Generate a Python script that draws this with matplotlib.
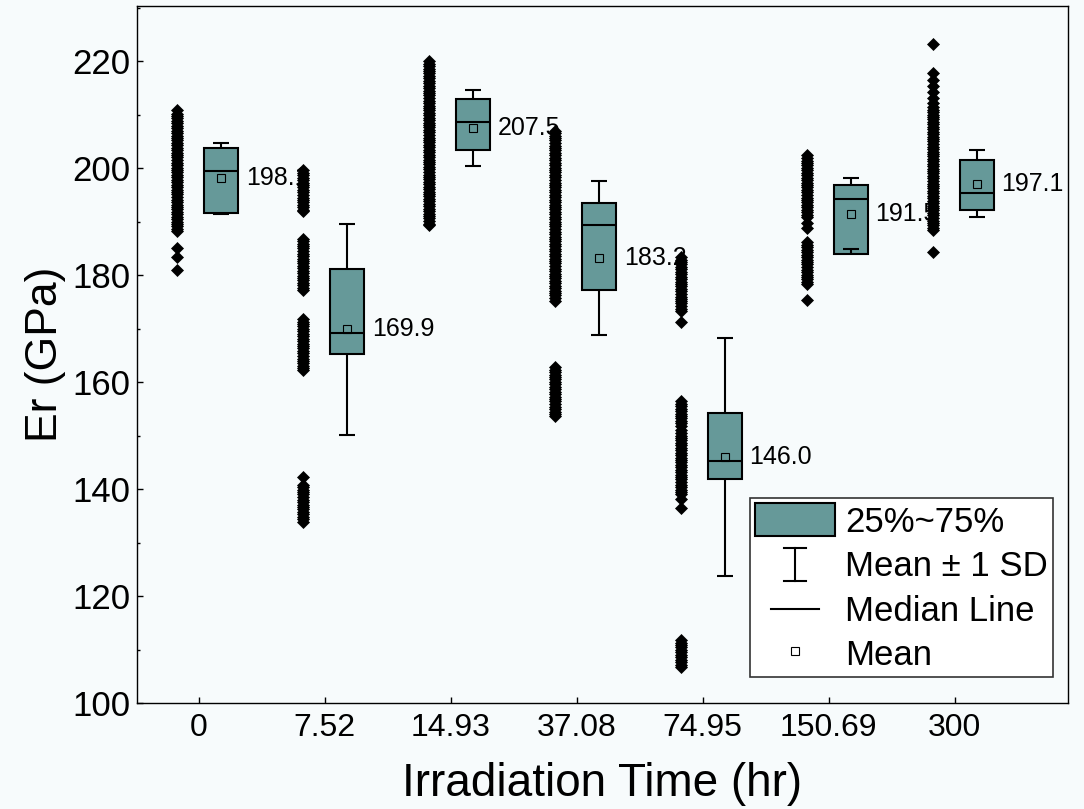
"""
Er (GPa) vs irradiation time: raw strips + box (25-75 %), mean +/- 1 SD whiskers,
median line and mean marker, with the mean written beside each box.
"""

import matplotlib
matplotlib.use("Agg")
import matplotlib.pyplot as plt
import matplotlib.patches as mpatches
from matplotlib.lines import Line2D
from matplotlib.legend_handler import HandlerBase
from matplotlib.ticker import MultipleLocator

# --- data ---
times = ["0", "7.52", "14.93", "37.08", "74.95", "150.69", "300"]

q1 = [191.6, 165.2, 203.3, 177.3, 141.8, 184.0, 192.1]
median = [199.5, 169.2, 208.6, 189.3, 145.2, 194.3, 195.4]
q3 = [203.8, 181.1, 213.0, 193.5, 154.2, 196.9, 201.6]
mean = [198.1, 169.9, 207.5, 183.2, 146.0, 191.5, 197.1]
sd = [6.6, 19.7, 7.1, 14.4, 22.3, 6.7, 6.3]

raw_0 = [210.8, 210.2, 209.8, 209.3, 208.9, 208.4, 207.9, 207.5, 207.0, 206.6,
         206.1, 205.6, 205.2, 204.7, 204.3, 203.8, 203.3, 202.9, 202.4, 202.0,
         201.5, 201.0, 200.6, 200.1, 199.7, 199.2, 198.7, 198.3, 197.8, 197.4,
         196.9, 196.4, 196.0, 195.5, 195.1, 194.6, 194.1, 193.7, 193.2, 192.8,
         192.3, 191.8, 191.4, 190.9, 190.5, 190.0, 189.5, 189.1, 188.6, 188.2,
         185.0, 183.4, 180.9]
raw_7 = [199.6, 199.1, 198.7, 198.2, 197.8, 197.3, 196.8, 196.4, 195.9, 195.5,
         195.0, 194.5, 194.1, 193.6, 193.2, 192.7, 192.2, 191.9,
         186.8, 186.3, 185.9, 185.4, 185.0, 184.5, 184.0, 183.6, 183.1, 182.7,
         182.2, 181.7, 181.3, 180.8, 180.4, 179.9, 179.4, 179.0, 178.5, 178.1,
         177.6, 177.2,
         171.8, 171.3, 170.9, 170.4, 170.0, 169.5, 169.0, 168.6, 168.1, 167.7,
         167.2, 166.7, 166.3, 165.8, 165.4, 164.9, 164.4, 164.0, 163.5, 163.1,
         162.6, 162.3,
         142.3, 140.8, 140.3, 139.9, 139.4, 139.0, 138.5, 138.0, 137.6, 137.1,
         136.7, 136.2, 135.7, 135.3, 134.8, 134.4, 133.9]
raw_15 = [220.0, 219.5, 219.1, 218.6, 218.2, 217.7, 217.2, 216.8, 216.3, 215.9,
          215.4, 214.9, 214.5, 214.0, 213.6, 213.1, 212.6, 212.2, 211.7, 211.3,
          210.8, 210.3, 209.9, 209.4, 209.0, 208.5, 208.0, 207.6, 207.1, 206.7,
          206.2, 205.7, 205.3, 204.8, 204.4, 203.9, 203.4, 203.0, 202.5, 202.1,
          201.6, 201.1, 200.7, 200.2, 199.8, 199.3, 198.8, 198.4, 197.9, 197.5,
          197.0, 196.5, 196.1, 195.6, 195.2, 194.7, 194.2, 193.8, 193.3, 192.9,
          192.4, 191.9, 191.5, 191.0, 190.6, 190.1, 189.6, 189.4]
raw_37 = [207.0, 206.5, 206.1, 205.6, 205.2, 204.7, 204.2, 203.8, 203.3, 202.9,
          202.4, 201.9, 201.5, 201.0, 200.6, 200.1, 199.6, 199.2, 198.7, 198.3,
          197.8, 197.3, 196.9, 196.4, 196.0, 195.5, 195.0, 194.6, 194.1, 193.7,
          193.2, 192.7, 192.3, 191.8, 191.4, 190.9, 190.4, 190.0, 189.5, 189.1,
          188.6, 188.1, 187.7, 187.2, 186.8, 186.3, 185.8, 185.4, 184.9, 184.5,
          184.0, 183.5, 183.1, 182.6, 182.2, 181.7, 181.2, 180.8, 180.3, 179.9,
          179.4, 178.9, 178.5, 178.0, 177.6, 177.1, 176.6, 176.2, 175.7, 175.2,
          162.8, 162.3, 161.9, 161.4, 161.0, 160.5, 160.0, 159.6, 159.1, 158.7,
          158.2, 157.7, 157.3, 156.8, 156.4, 155.9, 155.4, 155.0, 154.5, 154.1,
          153.6]
raw_75 = [183.4, 182.9, 182.5, 182.0, 181.6, 181.1, 180.6, 180.2, 179.7, 179.3,
          178.8, 178.3, 177.9, 177.4, 177.0, 176.5, 176.0, 175.6, 175.1, 174.7,
          174.2, 173.7, 173.2, 171.3,
          156.4, 155.9, 155.5, 155.0, 154.6, 154.1, 153.6, 153.2, 152.7, 152.3,
          151.8, 151.0, 150.5, 150.0, 149.6, 149.1, 148.7, 148.2, 147.7, 147.3,
          146.8, 146.4, 145.9, 145.4, 145.0, 144.5, 144.1, 143.6, 143.1, 142.7,
          142.2, 141.8, 141.3, 140.8, 140.4, 139.9, 139.5, 139.0, 138.2, 136.4,
          111.8, 111.3, 110.9, 110.4, 110.0, 109.5, 109.0, 108.6, 108.1, 107.7,
          107.2, 106.7]
raw_151 = [202.4, 201.9, 201.4, 201.0, 200.5, 200.1, 199.6, 199.1, 198.7, 198.2,
           197.8, 197.3, 196.8, 196.4, 195.9, 195.5, 195.0, 194.5, 194.1, 193.6,
           193.2, 192.7, 192.2, 191.8, 191.3, 190.8, 189.8, 188.9,
           186.1, 185.6, 185.2, 184.7, 184.3, 183.8, 183.3, 182.9, 182.4, 182.0,
           181.5, 181.0, 180.6, 180.1, 179.7, 179.2, 178.7, 178.3, 175.4]
raw_300 = [223.3, 217.7, 216.5, 215.3, 214.2, 213.1, 212.1,
           211.4, 210.9, 210.5, 210.0, 209.6, 209.1, 208.6, 208.2, 207.7, 207.3,
           206.8, 206.3, 205.9, 205.4, 205.0, 204.5, 204.0, 203.6, 203.1, 202.7,
           202.2, 201.7, 201.3, 200.8, 200.4, 199.9, 199.4, 199.0, 198.5, 198.1,
           197.6, 197.1, 196.7, 196.2, 195.8, 195.3, 194.8, 194.4, 193.9, 193.5,
           193.0, 192.5, 192.1, 191.6, 191.2, 190.7, 190.2, 189.8, 189.3, 188.9,
           188.5, 184.3]
raw = [raw_0, raw_7, raw_15, raw_37, raw_75, raw_151, raw_300]

# --- style ---
BG = "#F7FBFC"
BOX_COLOR = "#669999"
FONT = "Liberation Sans"
STRIP_DX = -0.175
BOX_DX = 0.18
BOX_W = 0.27
CAP_HALF = 0.064
LW = 1.5


class IBeamHandler(HandlerBase):
    """Legend glyph: vertical bar with caps (mean +/- 1 SD)."""

    def create_artists(self, legend, orig_handle, xdescent, ydescent,
                       width, height, fontsize, trans):
        cx = -xdescent + width / 2
        y0, y1 = -ydescent, -ydescent + height
        half = 0.14 * width
        segs = [([cx, cx], [y0, y1]),
                ([cx - half, cx + half], [y0, y0]),
                ([cx - half, cx + half], [y1, y1])]
        return [Line2D(xs, ys, color="black", lw=LW, transform=trans) for xs, ys in segs]


class ShortLineHandler(HandlerBase):
    """Legend glyph: short horizontal line (median)."""

    def create_artists(self, legend, orig_handle, xdescent, ydescent,
                       width, height, fontsize, trans):
        cx = -xdescent + width / 2
        cy = -ydescent + height / 2
        half = 0.3 * width
        return [Line2D([cx - half, cx + half], [cy, cy], color="black",
                       lw=LW, transform=trans)]


def main() -> None:
    plt.rcParams["font.family"] = [FONT, "DejaVu Sans"]

    fig = plt.figure(figsize=(10.84, 8.09), dpi=100, facecolor=BG)
    ax = fig.add_axes([0.1264, 0.131, 0.8588, 0.8615], facecolor=BG)

    for i in range(len(times)):
        xb = i + BOX_DX
        # caixa 25%-75%
        ax.add_patch(mpatches.Rectangle((xb - BOX_W / 2, q1[i]), BOX_W, q3[i] - q1[i],
                                        facecolor=BOX_COLOR, edgecolor="black",
                                        lw=LW, zorder=2))
        ax.hlines(median[i], xb - BOX_W / 2, xb + BOX_W / 2, color="black", lw=LW, zorder=3)
        # bigodes: media +/- 1 DP, partindo das bordas da caixa
        lo, hi = mean[i] - sd[i], mean[i] + sd[i]
        ax.vlines(xb, hi, q3[i], color="black", lw=LW, zorder=3)
        ax.vlines(xb, q1[i], lo, color="black", lw=LW, zorder=3)
        ax.hlines([lo, hi], xb - CAP_HALF, xb + CAP_HALF, color="black", lw=LW, zorder=3)
        ax.plot(xb, mean[i], "s", ms=5.5, mfc="none", mec="black", mew=0.8, zorder=4)
        ax.text(i + 0.373, mean[i], f"{mean[i]:.1f}", fontsize=18,
                ha="left", va="center", zorder=4)
        # pontos brutos (por cima dos rótulos, como no original)
        ax.plot([i + STRIP_DX] * len(raw[i]), raw[i], "D", ms=6.3, color="black",
                mec="black", mew=0.5, zorder=5)

    ax.set_xlim(-0.49, 6.9)
    ax.set_ylim(100, 230.3)
    ax.set_xticks(range(len(times)), times)
    ax.yaxis.set_major_locator(MultipleLocator(20))
    ax.yaxis.set_minor_locator(MultipleLocator(10))
    ax.tick_params(axis="both", which="major", direction="in", length=4.5,
                   width=1, labelsize=23, pad=7)
    ax.tick_params(axis="y", which="minor", direction="in", length=2.5, width=1)
    ax.tick_params(axis="y", which="major", labelsize=25, pad=5)
    for sp in ax.spines.values():
        sp.set_linewidth(1)
        sp.set_color("black")

    ax.set_xlabel("Irradiation Time (hr)", fontsize=33, labelpad=14)
    ax.set_ylabel("Er (GPa)", fontsize=32, labelpad=4)

    handles = [
        mpatches.Patch(facecolor=BOX_COLOR, edgecolor="black", lw=LW),
        "ibeam",
        "median",
        Line2D([], [], ls="none", marker="s", ms=5.5, mfc="none", mec="black", mew=0.8),
    ]
    labels = ["25%~75%", "Mean \u00b1 1 SD", "Median Line", "Mean"]
    leg = ax.legend(
        handles, labels,
        handler_map={"ibeam": IBeamHandler(), "median": ShortLineHandler()},
        loc="lower right", bbox_to_anchor=(0.984, 0.037), borderaxespad=0,
        fontsize=25, handlelength=2.3, handleheight=1.1, handletextpad=0.3,
        labelspacing=0.26, borderpad=0.15, numpoints=1,
        fancybox=False, framealpha=1, facecolor="white", edgecolor="#333333",
    )
    leg.get_frame().set_linewidth(1.2)
    leg.set_zorder(10)

    fig.savefig("out.png", dpi=100, facecolor=BG)
    plt.close(fig)


if __name__ == "__main__":
    main()
